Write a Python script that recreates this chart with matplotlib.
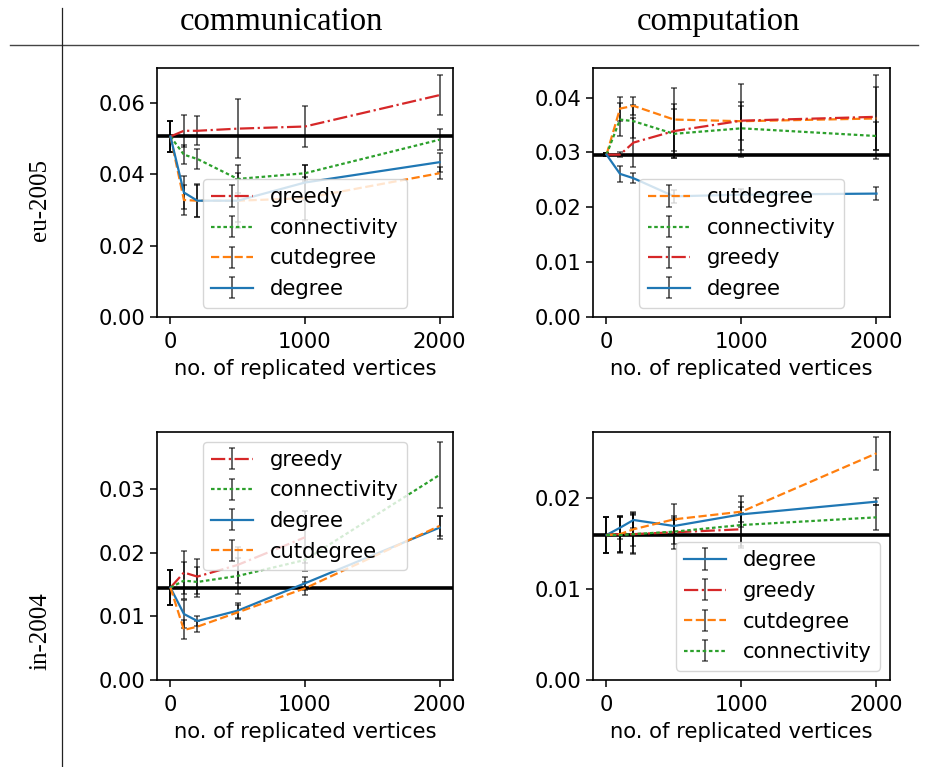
import matplotlib
matplotlib.use("Agg")
import matplotlib.pyplot as plt
import numpy as np
from matplotlib.ticker import FormatStrFormatter

# replicated vertices
reps = [0, 100, 200, 500, 1000, 2000]
reps_short = [0, 100, 200, 500, 1000]

col_titles = ["communication", "computation"]
row_titles = ["eu-2005", "in-2004"]

# eu-2005, communication
eu_comm_base = 0.0506
eu_comm_greedy = [0.0506, 0.0522, 0.0522, 0.0528, 0.0534, 0.0622]
eu_comm_greedy_err = [0.0044, 0.0045, 0.0041, 0.0082, 0.0057, 0.0055]
eu_comm_conn = [0.0506, 0.0455, 0.0443, 0.0387, 0.0403, 0.0497]
eu_comm_conn_err = [0.0044, 0.0027, 0.0029, 0.0040, 0.0022, 0.0029]
eu_comm_cut = [0.0506, 0.0328, 0.0326, 0.0326, 0.0333, 0.0403]
eu_comm_cut_err = [0.0044, 0.0042, 0.0045, 0.0077, 0.0060, 0.0017]
eu_comm_deg = [0.0506, 0.0349, 0.0326, 0.0326, 0.0377, 0.0434]
eu_comm_deg_err = [0.0044, 0.0047, 0.0046, 0.0060, 0.0050, 0.0027]

# eu-2005, computation
eu_comp_base = 0.02956
eu_comp_cut = [0.0296, 0.0380, 0.0385, 0.0360, 0.0357, 0.0362]
eu_comp_cut_err = [0.0003, 0.0022, 0.0017, 0.0058, 0.0035, 0.0058]
eu_comp_conn = [0.0296, 0.0360, 0.0357, 0.0334, 0.0344, 0.0330]
eu_comp_conn_err = [0.0003, 0.0030, 0.0030, 0.0045, 0.0040, 0.0026]
eu_comp_greedy = [0.0296, 0.0296, 0.0318, 0.0339, 0.0358, 0.0365]
eu_comp_greedy_err = [0.0003, 0.0005, 0.0045, 0.0049, 0.0066, 0.0077]
eu_comp_deg = [0.0296, 0.0261, 0.0253, 0.0220, 0.0223, 0.0225]
eu_comp_deg_err = [0.0003, 0.0014, 0.0009, 0.0012, 0.0010, 0.0012]

# in-2004, communication
in_comm_base = 0.01453
in_comm_greedy = [0.01453, 0.0169, 0.01626, 0.0181, 0.02244]
in_comm_greedy_err = [0.0028, 0.0034, 0.0027, 0.0028, 0.0041]
in_comm_conn = [0.01453, 0.01563, 0.01542, 0.01636, 0.01888, 0.03225]
in_comm_conn_err = [0.0028, 0.0029, 0.0024, 0.0028, 0.0018, 0.0052]
in_comm_deg = [0.01453, 0.01038, 0.00928, 0.01091, 0.01521, 0.02396]
in_comm_deg_err = [0.0028, 0.0022, 0.0008, 0.0012, 0.0010, 0.0018]
in_comm_cut = [0.01453, 0.00787, 0.00839, 0.01064, 0.01442, 0.02423]
in_comm_cut_err = [0.0028, 0.0015, 0.0009, 0.0011, 0.0010, 0.0016]

# in-2004, computation
in_comp_base = 0.0159
in_comp_deg = [0.0159, 0.0167, 0.01755, 0.01689, 0.01817, 0.01956]
in_comp_deg_err = [0.0020, 0.0012, 0.0009, 0.0009, 0.0008, 0.0004]
in_comp_greedy = [0.0159, 0.0160, 0.0160, 0.0162, 0.01653]
in_comp_greedy_err = [0.0020, 0.0020, 0.0022, 0.0018, 0.0018]
in_comp_cut = [0.0159, 0.0160, 0.01653, 0.01762, 0.01846, 0.02486]
in_comp_cut_err = [0.0020, 0.0020, 0.0018, 0.0017, 0.0017, 0.0018]
in_comp_conn = [0.0159, 0.0159, 0.0160, 0.01627, 0.0170, 0.01784]
in_comp_conn_err = [0.0020, 0.0020, 0.0021, 0.0013, 0.0025, 0.0014]

styles = {
    "greedy": ("C3", "-."),
    "connectivity": ("C2", (0, (1.6, 1.2))),
    "cutdegree": ("C1", "--"),
    "degree": ("C0", "-"),
}

plt.rcParams["font.size"] = 15.2
plt.rcParams["axes.linewidth"] = 1.2
plt.rcParams["xtick.major.size"] = 5
plt.rcParams["ytick.major.size"] = 5
plt.rcParams["xtick.major.width"] = 1.1
plt.rcParams["ytick.major.width"] = 1.1
plt.rcParams["xtick.major.pad"] = 6

fig = plt.figure(figsize=(9.28, 7.67), dpi=100)

W, H = 928.0, 767.0
def place(l, t, r, b):
    return fig.add_axes([l / W, 1 - b / H, (r - l) / W, (b - t) / H])

ax1 = place(157, 68, 453, 317)
ax2 = place(593, 68, 890, 317)
ax3 = place(157, 432, 453, 680)
ax4 = place(593, 432, 890, 680)


def draw(ax, series, base, ylim, yticks, loc):
    for name, x, y, err in series:
        c, ls = styles[name]
        ax.errorbar(x, y, yerr=err, color=c, ls=ls, lw=1.6,
                    ecolor=(0, 0, 0, 0.65), elinewidth=1.3, capsize=2.1,
                    capthick=1.1, label=name)
    ax.axhline(base, color="k", lw=2.6)
    ax.set_xlim(-100, 2100)
    ax.set_xticks([0, 1000, 2000])
    ax.set_ylim(*ylim)
    ax.set_yticks(yticks)
    ax.yaxis.set_major_formatter(FormatStrFormatter("%.2f"))
    ax.set_xlabel("no. of replicated vertices", labelpad=5)
    ax.legend(loc=loc, borderaxespad=0.45)


draw(ax1, [("greedy", reps, eu_comm_greedy, eu_comm_greedy_err),
           ("connectivity", reps, eu_comm_conn, eu_comm_conn_err),
           ("cutdegree", reps, eu_comm_cut, eu_comm_cut_err),
           ("degree", reps, eu_comm_deg, eu_comm_deg_err)],
     eu_comm_base, (0, 0.0698), [0, 0.02, 0.04, 0.06], "lower center")

draw(ax2, [("cutdegree", reps, eu_comp_cut, eu_comp_cut_err),
           ("connectivity", reps, eu_comp_conn, eu_comp_conn_err),
           ("greedy", reps, eu_comp_greedy, eu_comp_greedy_err),
           ("degree", reps, eu_comp_deg, eu_comp_deg_err)],
     eu_comp_base, (0, 0.0454), [0, 0.01, 0.02, 0.03, 0.04], "lower center")

draw(ax3, [("greedy", reps_short, in_comm_greedy, in_comm_greedy_err),
           ("connectivity", reps, in_comm_conn, in_comm_conn_err),
           ("degree", reps, in_comm_deg, in_comm_deg_err),
           ("cutdegree", reps, in_comm_cut, in_comm_cut_err)],
     in_comm_base, (0, 0.039), [0, 0.01, 0.02, 0.03], "upper center")

draw(ax4, [("degree", reps, in_comp_deg, in_comp_deg_err),
           ("greedy", reps_short, in_comp_greedy, in_comp_greedy_err),
           ("cutdegree", reps, in_comp_cut, in_comp_cut_err),
           ("connectivity", reps, in_comp_conn, in_comp_conn_err)],
     in_comp_base, (0, 0.0272), [0, 0.01, 0.02], "lower right")

# table frame around the grid of plots
serif = ["Liberation Serif", "DejaVu Serif"]
fig.add_artist(plt.Line2D([10 / W, 918 / W], [1 - 45 / H, 1 - 45 / H],
                          color="#444444", lw=1.0, transform=fig.transFigure))
fig.add_artist(plt.Line2D([62 / W, 62 / W], [1 - 8 / H, 0], color="#222222",
                          lw=0.9, transform=fig.transFigure))
fig.text(281 / W, 1 - 22 / H, col_titles[0], family=serif, fontsize=23.5,
         ha="center", va="center")
fig.text(718 / W, 1 - 22 / H, col_titles[1], family=serif, fontsize=23.5,
         ha="center", va="center")
fig.text(40 / W, 1 - 200 / H, row_titles[0], family=serif, fontsize=18,
         ha="center", va="center", rotation=90)
fig.text(40 / W, 1 - 631 / H, row_titles[1], family=serif, fontsize=18,
         ha="center", va="center", rotation=90)

fig.savefig("out.png", dpi=100)
